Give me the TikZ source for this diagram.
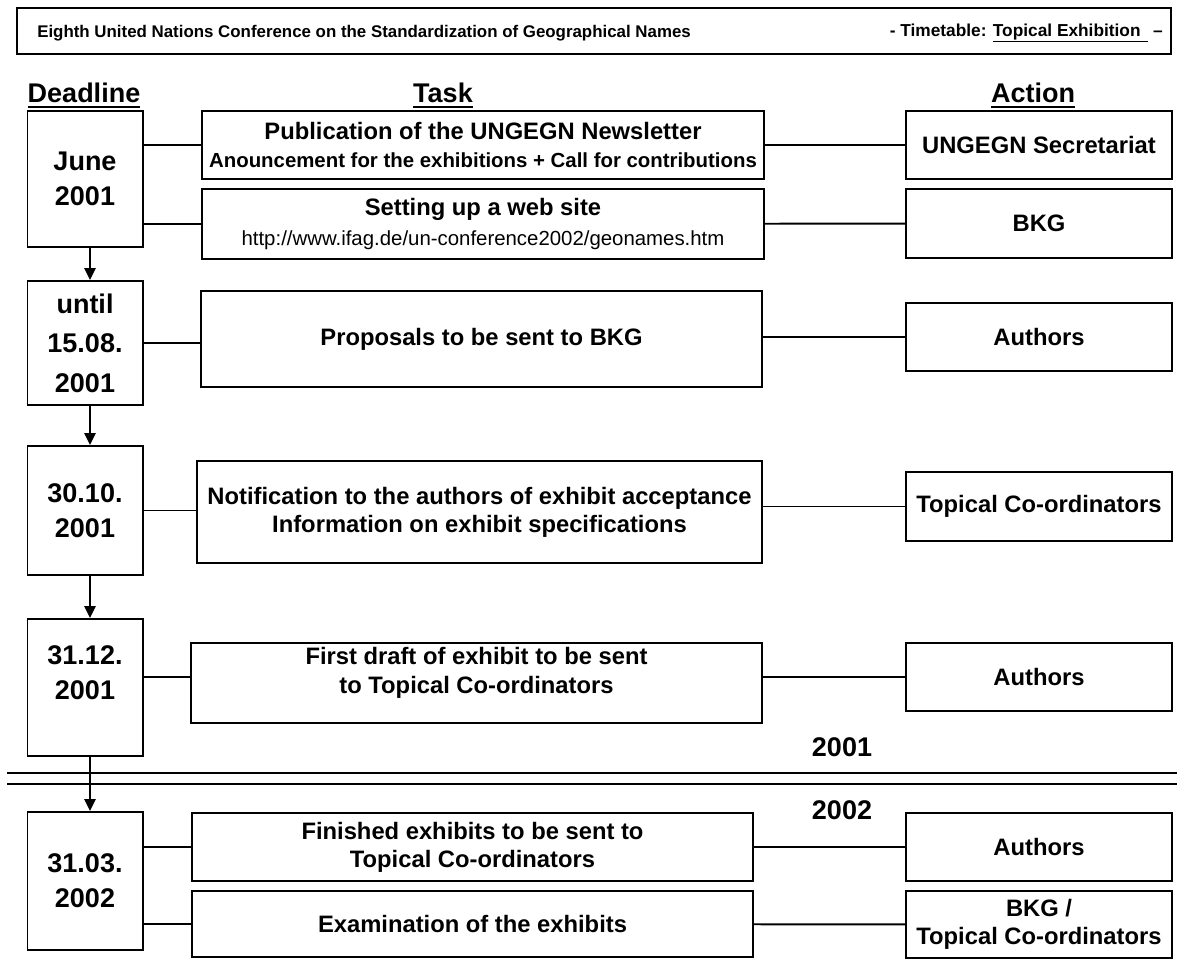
\documentclass[tikz,border=0pt]{standalone}
\usepackage{fontspec}
\setmainfont{Liberation Sans}
\usetikzlibrary{arrows.meta,positioning}
\newcommand{\colhead}[1]{\setbox0=\hbox{#1}\rlap{\rule[-4.5pt]{\wd0}{2pt}}\box0}
\newcommand{\subline}{\fontsize{14.5}{17}\selectfont}

\begin{document}
\begin{tikzpicture}[x=0.025cm, y=-0.025cm,
    every node/.style={font=\bfseries},
    box/.style={draw, line width=1.4pt, align=center, inner sep=0pt},
    datebox/.style={box, minimum width=2.875cm, font=\fontsize{19.2}{25}\selectfont\bfseries},
    taskbox/.style={box, font=\fontsize{16.9}{20}\selectfont\bfseries},
    actbox/.style={box, minimum width=6.65cm, font=\fontsize{16.9}{20}\selectfont\bfseries},
    colhd/.style={anchor=base, font=\fontsize{19.2}{25}\selectfont\bfseries},
    yearlbl/.style={font=\fontsize{19.2}{25}\selectfont\bfseries},
    link/.style={line width=1.4pt},
    next/.style={line width=1.4pt, -{Triangle[length=8.5pt,width=8pt]}}]
  \useasboundingbox (0,0) rectangle (1177,959);

  % title bar
  \node[draw, line width=1.4pt, minimum width=28.85cm, minimum height=1.15cm] (head) at (594,31) {};
  \node[anchor=west, inner sep=0pt, font=\fontsize{12}{14}\selectfont\bfseries] (headL) at (37,33)
    {Eighth United Nations Conference on the Standardization of Geographical Names};
  \node[anchor=east, inner sep=0pt, font=\fontsize{12.3}{14}\selectfont\bfseries] (headR) at (1163,33)
    {- Timetable: \underline{Topical Exhibition\ \,} --};

  % column heads
  \node[colhd] (hdDate) at (84,102) {\colhead{Deadline}};
  \node[colhd] (hdTask) at (443,102) {\colhead{Task}};
  \node[colhd] (hdAct) at (1033,102) {\colhead{Action}};

  % deadlines
  \node[datebox, minimum height=3.4cm] (d1) at (85,179) {June\\2001};
  \node[datebox, minimum height=3.1cm] (d2) at (85,343) {until\\[3pt]15.08.\\[3pt]2001};
  \node[datebox, minimum height=3.225cm] (d3) at (85,510.5) {30.10.\\2001};
  \node[datebox, minimum height=3.425cm,
    label={[align=center, font=\fontsize{19.2}{25}\selectfont\bfseries, yshift=0.375cm]center:{31.12.\\2001}}] (d4) at (85,687.5) {};
  \node[datebox, minimum height=3.45cm] (d5) at (85,881) {31.03.\\2002};
  \foreach \a/\b in {d1/d2,d2/d3,d3/d4,d4/d5}
    \draw[next] ([xshift=0.125cm]\a.south) -- ([xshift=0.125cm]\b.north);

  % tasks
  \node[taskbox, minimum width=14.05cm, minimum height=1.7cm] (t1) at (483,145)
    {Publication of the UNGEGN Newsletter\\{\subline Anouncement for the exhibitions + Call for contributions}};
  \node[taskbox, minimum width=14.05cm, minimum height=1.75cm] (t2) at (483,224)
    {Setting up a web site\\[2pt]{\subline\mdseries http://www.ifag.de/un-conference2002/geonames.htm}};
  \node[taskbox, minimum width=14.025cm, minimum height=2.4cm] (t3) at (481.5,339)
    {Proposals to be sent to BKG};
  \node[taskbox, minimum width=14.125cm, minimum height=2.55cm] (t4) at (479.5,512)
    {Notification to the authors of exhibit acceptance\\Information on exhibit specifications};
  \node[taskbox, minimum width=14.275cm, minimum height=2cm,
    label={[align=center, font=\fontsize{16.9}{21}\selectfont\bfseries, yshift=0.25cm]center:{First draft of exhibit to be sent\\to Topical Co-ordinators}}] (t5) at (476.5,683) {};
  \node[taskbox, minimum width=14.025cm, minimum height=1.7cm] (t6) at (472.5,847)
    {Finished exhibits to be sent to\\Topical Co-ordinators};
  \node[taskbox, minimum width=14.025cm, minimum height=1.65cm] (t7) at (472.5,924)
    {Examination of the exhibits};

  % actions
  \node[actbox, minimum height=1.7cm] (a1) at (1039,145) {UNGEGN Secretariat};
  \node[actbox, minimum height=1.725cm] (a2) at (1039,223.5) {BKG};
  \node[actbox, minimum height=1.7cm] (a3) at (1039,337) {Authors};
  \node[actbox, minimum height=1.725cm] (a4) at (1039,506.5) {Topical Co-ordinators};
  \node[actbox, minimum height=1.7cm] (a5) at (1039,677) {Authors};
  \node[actbox, minimum height=1.7cm] (a6) at (1039,847) {Authors};
  \node[actbox, minimum height=1.675cm] (a7) at (1039,924.5) {BKG /\\Topical Co-ordinators};

  % connectors
  \foreach \t in {t1,t2}
    \draw[link] (d1.east |- \t) -- (\t);
  \foreach \t in {t6,t7}
    \draw[link] (d5.east |- \t) -- (\t);
  \foreach \a/\b in {t1/a1,t2/a2,t6/a6,t7/a7}
    \draw[link] (\a) -- (\b);
  \draw[link] (d2) -- (d2 -| t3.west);
  \draw[link] (t3.east |- a3) -- (a3);
  \draw[link] (d3) -- (d3 -| t4.west);
  \draw[link] (t4.east |- a4) -- (a4);
  \draw[link] (d4.east |- a5) -- (t5.west |- a5);
  \draw[link] (t5.east |- a5) -- (a5);

  % year break
  \draw[link] (7,773) -- (1177,773);
  \draw[link] (7,784) -- (1177,784);
  \node[yearlbl] (y2001) at (842,747) {2001};
  \node[yearlbl] (y2002) at (842,810) {2002};
\end{tikzpicture}
\end{document}
